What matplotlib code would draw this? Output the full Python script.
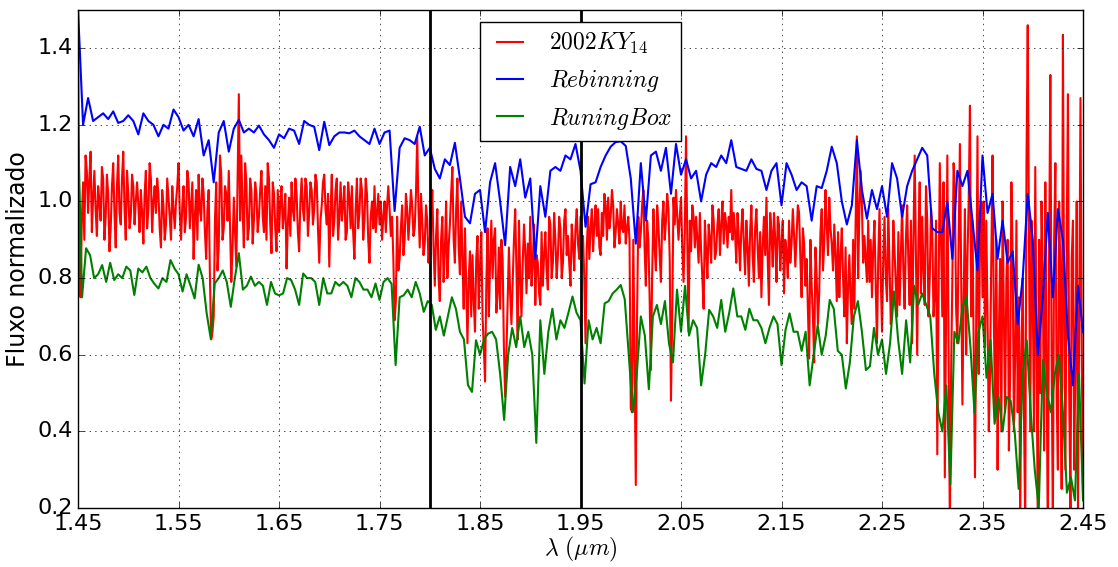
import numpy as np
import matplotlib
matplotlib.use("Agg")
import matplotlib.pyplot as plt

plt.style.use("classic")

# espectro original, passo de 0.0025 um (uma linha = 0.05 um)
fluxo = [
    1.50, 0.75, 1.05, 1.12, 0.97, 1.13, 1.01, 0.98, 1.04, 0.95, 1.06, 0.96, 1.02, 0.93, 1.10, 0.88, 1.12, 0.94, 1.13, 0.90,
    1.02, 0.96, 1.04, 1.00, 0.99, 1.03, 0.89, 1.08, 0.98, 1.06, 1.00, 0.97, 1.02, 0.88, 0.99, 0.94, 1.01, 0.90, 0.98, 1.00,
    1.10, 0.90, 1.04, 0.96, 1.05, 0.99, 0.85, 1.03, 1.07, 0.95, 1.02, 0.85, 1.03, 0.64, 0.70, 1.05, 0.88, 1.07, 0.93, 1.02,
    1.08, 0.79, 1.01, 0.83, 1.28, 1.12, 0.88, 1.05, 0.93, 1.03, 0.95, 1.02, 0.96, 1.08, 0.92, 0.90, 1.06, 0.865, 1.02, 0.87,
    0.92, 1.04, 0.97, 0.825, 1.01, 1.05, 0.95, 1.02, 0.87, 1.06, 0.95, 1.04, 0.97, 1.03, 0.98, 1.05, 0.84, 0.99, 1.07, 0.94,
    0.83, 1.07, 0.95, 1.06, 0.96, 0.95, 1.04, 0.92, 1.01, 1.04, 0.85, 1.06, 0.97, 1.03, 0.95, 1.02, 0.84, 1.00, 1.04, 0.97,
    0.94, 0.90, 1.00, 0.99, 0.98, 0.96, 0.69, 0.96, 0.85, 0.99, 0.90, 0.98, 0.96, 0.99, 0.93, 1.17, 0.88, 0.95, 0.89, 0.95,
    0.90, 1.03, 0.78, 0.98, 0.74, 0.96, 0.87, 0.80, 0.94, 1.09, 0.84, 1.06, 0.81, 0.85, 0.93, 0.63, 0.87, 0.86, 0.66, 0.91,
    0.83, 0.70, 0.53, 0.93, 0.84, 0.80, 0.93, 0.76, 0.72, 0.85, 0.49, 0.74, 0.76, 0.79, 0.98, 0.64, 0.80, 0.84, 0.87, 0.89,
    0.96, 0.84, 0.73, 0.84, 0.73, 0.78, 0.92, 0.77, 0.94, 0.84, 0.90, 0.86, 0.93, 0.84, 0.98, 0.91, 0.78, 0.89, 0.93, 0.89,
    0.96, 0.91, 0.63, 0.96, 0.93, 0.87, 0.99, 0.98, 0.86, 0.91, 0.99, 1.01, 0.96, 0.99, 0.92, 0.94, 1.00, 0.92, 0.89, 0.96,
    0.46, 0.90, 0.26, 0.96, 0.92, 1.03, 0.78, 0.90, 0.56, 0.98, 0.82, 0.94, 0.79, 1.00, 0.95, 0.98, 0.48, 1.01, 1.03, 0.90,
    1.01, 0.79, 1.17, 0.66, 0.87, 0.96, 0.96, 0.84, 0.87, 0.72, 0.87, 0.94, 0.84, 0.95, 0.87, 0.98, 0.94, 0.89, 0.94, 0.96,
    1.03, 0.97, 0.84, 0.90, 0.93, 0.89, 0.95, 0.78, 0.99, 0.79, 0.98, 0.80, 0.75, 0.96, 1.01, 0.73, 0.92, 0.97, 0.79, 0.94,
    0.89, 0.76, 0.87, 0.95, 0.89, 0.91, 0.91, 0.97, 0.75, 0.89, 0.85, 0.59, 0.78, 0.58, 0.80, 0.76, 0.98, 0.89, 0.94, 1.01,
    0.89, 0.94, 0.74, 0.75, 0.93, 0.70, 0.63, 0.86, 0.68, 0.72, 1.17, 0.98, 0.99, 0.91, 0.79, 0.79, 0.75, 0.95, 0.63, 0.98,
    0.66, 0.96, 0.74, 0.83, 0.75, 0.87, 0.70, 0.73, 0.99, 0.72, 0.99, 0.73, 0.63, 1.12, 0.60, 1.05, 0.96, 0.73, 0.95, 0.80,
    0.92, 0.76, 0.34, 1.10, 0.70, 0.28, 1.12, 0.15, 0.80, 1.03, 0.63, 1.15, 0.47, 0.98, 0.85, 1.25, 0.95, 0.28, 1.17, 0.89,
    0.75, 0.62, 0.70, 0.55, 1.12, 0.45, 0.30, 0.85, 1.00, 0.45, 0.90, 0.55, 0.85, 0.60, 0.45, 0.15, 0.80, 0.15, 1.46, 0.40,
    0.75, 1.09, 0.15, 0.50, 0.80, 1.05, 0.10, 1.33, 0.15, 1.10, 0.30, 0.80, 1.435, 0.30, 1.28, 0.20, 0.95, 0.60, 0.20, 1.27,
    0.25,
]

# pontos intermediarios do espectro (entre cada par de valores de fluxo)
fluxo_meio = [
    0.80, 0.95, 0.90, 1.08, 1.06, 0.92, 1.08, 0.91, 1.00, 1.09, 0.90, 1.07, 0.87, 1.04, 0.97, 1.04, 0.97, 1.06, 0.98, 1.08,
    0.93, 1.07, 0.94, 1.05, 0.92, 0.97, 1.02, 0.93, 1.10, 0.92, 1.04, 1.06, 0.93, 1.03, 0.90, 1.06, 0.96, 1.04, 0.93, 1.04,
    0.97, 0.99, 0.92, 1.08, 0.93, 1.05, 0.96, 0.90, 0.98, 1.06, 0.92, 0.98, 0.80, 0.66, 0.95, 0.82, 1.12, 0.90, 1.04, 0.95,
    0.93, 0.88, 0.92, 1.05, 0.95, 0.98, 1.10, 0.90, 1.06, 0.89, 1.05, 0.92, 1.03, 0.96, 1.04, 1.10, 0.94, 1.05, 0.93, 1.03,
    1.00, 0.93, 1.02, 0.94, 0.91, 0.98, 1.06, 0.92, 1.00, 0.98, 1.06, 0.91, 1.05, 0.94, 1.07, 0.93, 0.95, 1.05, 0.98, 1.02,
    0.97, 0.91, 1.03, 0.90, 1.05, 0.99, 0.90, 1.05, 0.93, 0.92, 0.98, 0.93, 1.06, 0.90, 1.06, 0.90, 0.96, 0.93, 0.92, 1.02,
    1.00, 0.96, 0.92, 1.04, 0.91, 0.85, 0.74, 0.82, 0.93, 0.86, 1.02, 0.90, 1.03, 0.91, 1.02, 0.98, 1.02, 0.86, 0.99, 0.84,
    0.95, 0.88, 0.91, 0.80, 0.90, 0.79, 1.00, 0.88, 1.02, 0.90, 0.98, 0.88, 1.00, 0.72, 0.78, 0.80, 0.70, 0.74, 0.85, 0.72,
    0.92, 0.62, 0.78, 0.70, 0.95, 0.90, 0.71, 0.88, 0.90, 0.62, 0.60, 0.88, 0.68, 0.90, 0.82, 0.95, 0.70, 0.94, 0.76, 0.80,
    0.78, 0.94, 0.86, 0.76, 0.92, 0.86, 0.82, 0.96, 0.80, 0.97, 0.80, 0.96, 0.80, 0.95, 0.86, 0.84, 0.94, 0.82, 0.98, 0.85,
    0.86, 0.80, 0.88, 0.85, 0.98, 0.94, 0.91, 0.88, 0.97, 1.02, 0.90, 0.93, 1.03, 0.88, 0.98, 0.89, 0.93, 0.99, 0.93, 0.90,
    0.45, 0.60, 0.70, 0.88, 0.99, 0.88, 0.95, 0.75, 0.80, 0.88, 0.99, 0.86, 0.95, 0.90, 1.02, 0.85, 0.70, 0.94, 0.96, 0.96,
    0.88, 0.92, 0.90, 0.95, 0.99, 0.88, 0.90, 0.97, 0.80, 0.95, 0.80, 0.90, 0.99, 0.85, 0.94, 0.86, 1.00, 0.97, 0.88, 0.92,
    0.90, 0.92, 0.97, 0.82, 0.98, 0.81, 0.88, 0.92, 0.86, 0.93, 0.88, 0.92, 0.88, 0.86, 0.85, 0.97, 0.83, 0.90, 0.96, 0.82,
    0.95, 0.90, 0.80, 0.84, 0.98, 0.83, 0.99, 0.85, 0.93, 0.78, 0.72, 0.90, 0.70, 0.88, 0.68, 0.92, 0.82, 1.03, 0.86, 0.93,
    0.82, 0.86, 0.92, 0.86, 0.80, 0.88, 0.78, 0.74, 0.90, 0.95, 0.80, 1.08, 0.84, 0.85, 0.95, 0.90, 0.88, 0.78, 0.85, 0.80,
    0.85, 0.80, 0.98, 0.68, 0.95, 0.78, 0.92, 0.86, 0.82, 0.90, 0.84, 0.95, 0.90, 0.85, 0.90, 0.76, 0.82, 1.04, 0.70, 0.98,
    0.70, 0.95, 0.75, 0.90, 1.05, 0.70, 0.60, 0.55, 1.10, 0.72, 0.90, 0.80, 0.75, 0.60, 1.00, 0.70, 0.60, 0.70, 0.55, 1.00,
    1.00, 0.95, 0.40, 0.85, 0.70, 0.90, 0.65, 0.40, 0.70, 0.80, 0.35, 1.05, 0.40, 0.95, 0.75, 0.60, 0.45, 1.10, 0.90, 0.95,
    0.40, 0.60, 0.90, 1.00, 0.35, 0.60, 0.85, 0.60, 0.90, 0.50, 1.00, 0.25, 0.70, 0.90, 0.50, 0.85, 0.30, 1.00, 0.70, 0.60,
]

# rebinning, passo de 0.005 um (uma linha = 0.05 um)
rebin = [
    1.50, 1.20, 1.27, 1.21, 1.22, 1.23, 1.215, 1.235, 1.205, 1.21,
    1.225, 1.21, 1.175, 1.23, 1.21, 1.20, 1.17, 1.20, 1.19, 1.24,
    1.22, 1.185, 1.20, 1.17, 1.215, 1.12, 1.16, 1.05, 1.18, 1.21,
    1.13, 1.19, 1.213, 1.18, 1.19, 1.18, 1.198, 1.175, 1.16, 1.14,
    1.175, 1.165, 1.19, 1.185, 1.15, 1.21, 1.20, 1.195, 1.134, 1.208,
    1.147, 1.17, 1.18, 1.18, 1.178, 1.185, 1.17, 1.16, 1.15, 1.19,
    1.15, 1.18, 1.185, 0.975, 1.14, 1.165, 1.16, 1.15, 1.195, 1.12,
    1.14, 1.085, 1.06, 1.11, 1.095, 1.153, 1.06, 0.96, 0.943, 1.02,
    1.03, 0.92, 1.05, 1.10, 1.00, 0.886, 1.09, 1.04, 1.11, 1.01,
    1.06, 0.85, 1.04, 0.96, 1.08, 1.09, 1.08, 1.12, 1.11, 1.15,
    1.08, 0.934, 1.045, 1.05, 1.09, 1.12, 1.143, 1.155, 1.157, 1.145,
    1.06, 0.89, 1.10, 0.95, 1.12, 1.13, 1.08, 1.14, 1.02, 1.15,
    1.07, 1.11, 1.06, 1.08, 1.00, 1.07, 1.10, 1.09, 1.12, 1.10,
    1.16, 1.09, 1.085, 1.08, 1.11, 1.085, 1.08, 1.03, 1.08, 1.10,
    0.99, 1.10, 1.07, 1.03, 1.05, 1.04, 0.95, 1.04, 1.035, 1.08,
    1.143, 1.10, 1.00, 0.94, 0.99, 1.16, 1.03, 0.955, 1.03, 0.98,
    1.04, 0.96, 1.10, 1.06, 0.96, 1.04, 1.08, 1.11, 1.14, 1.12,
    0.93, 0.92, 0.92, 1.00, 0.85, 1.08, 1.04, 1.08, 0.95, 0.82,
    1.12, 0.97, 1.02, 0.85, 0.95, 0.84, 0.87, 0.68, 0.80, 1.02,
    0.90, 0.60, 0.75, 0.97, 0.75, 0.98, 0.90, 0.65, 0.52, 0.78,
    0.66,
]

# running box, passo de 0.004 um (uma linha = 0.04 um)
runbox = [
    1.20, 0.75, 0.878, 0.86, 0.80, 0.81, 0.834, 0.79, 0.84, 0.795,
    0.81, 0.80, 0.83, 0.82, 0.756, 0.825, 0.815, 0.83, 0.80, 0.785,
    0.773, 0.80, 0.79, 0.847, 0.825, 0.81, 0.765, 0.81, 0.78, 0.747,
    0.835, 0.80, 0.708, 0.643, 0.786, 0.80, 0.82, 0.79, 0.725, 0.80,
    0.865, 0.77, 0.78, 0.804, 0.78, 0.79, 0.78, 0.73, 0.79, 0.76,
    0.755, 0.76, 0.80, 0.795, 0.77, 0.73, 0.812, 0.80, 0.80, 0.79,
    0.73, 0.80, 0.76, 0.76, 0.79, 0.78, 0.79, 0.78, 0.75, 0.80,
    0.79, 0.77, 0.77, 0.75, 0.786, 0.743, 0.79, 0.80, 0.785, 0.573,
    0.75, 0.755, 0.77, 0.75, 0.79, 0.76, 0.712, 0.74, 0.73, 0.665,
    0.70, 0.65, 0.70, 0.75, 0.72, 0.66, 0.64, 0.521, 0.503, 0.638,
    0.60, 0.64, 0.655, 0.66, 0.64, 0.55, 0.43, 0.60, 0.67, 0.62,
    0.70, 0.62, 0.66, 0.60, 0.37, 0.69, 0.55, 0.66, 0.72, 0.64,
    0.69, 0.67, 0.71, 0.752, 0.71, 0.69, 0.525, 0.69, 0.64, 0.67,
    0.63, 0.734, 0.74, 0.76, 0.77, 0.782, 0.745, 0.60, 0.45, 0.55,
    0.70, 0.65, 0.51, 0.70, 0.73, 0.68, 0.74, 0.63, 0.58, 0.77,
    0.66, 0.78, 0.65, 0.69, 0.67, 0.52, 0.60, 0.717, 0.70, 0.67,
    0.743, 0.66, 0.71, 0.773, 0.70, 0.70, 0.665, 0.72, 0.69, 0.69,
    0.67, 0.63, 0.67, 0.70, 0.68, 0.573, 0.665, 0.708, 0.66, 0.66,
    0.61, 0.66, 0.52, 0.60, 0.677, 0.60, 0.65, 0.743, 0.72, 0.61,
    0.60, 0.512, 0.58, 0.70, 0.74, 0.66, 0.56, 0.57, 0.67, 0.60,
    0.64, 0.55, 0.63, 0.765, 0.64, 0.55, 0.69, 0.58, 0.78, 0.73,
    0.76, 0.73, 0.70, 0.55, 0.45, 0.40, 0.52, 0.26, 0.66, 0.63,
    0.725, 0.752, 0.62, 0.45, 0.66, 0.70, 0.54, 0.64, 0.42, 0.49,
    0.40, 0.49, 0.48, 0.40, 0.25, 0.55, 0.638, 0.45, 0.30, 0.20,
    0.586, 0.50, 0.45, 0.55, 0.60, 0.45, 0.24, 0.28, 0.22, 0.55,
    0.22,
]

linhas_vert = [1.80, 1.95]
xticks = [1.45, 1.55, 1.65, 1.75, 1.85, 1.95, 2.05, 2.15, 2.25, 2.35, 2.45]
yticks = [0.2, 0.4, 0.6, 0.8, 1.0, 1.2, 1.4]

# junta os pontos do espectro com os intermediarios
espectro = np.empty(len(fluxo) + len(fluxo_meio))
espectro[0::2] = fluxo
espectro[1::2] = fluxo_meio

lam_f = np.linspace(1.45, 2.45, len(espectro))
lam_r = np.linspace(1.45, 2.45, len(rebin))
lam_b = np.linspace(1.45, 2.45, len(runbox))

fig = plt.figure(figsize=(11.18, 5.67), dpi=100)
ax = fig.add_axes([0.0698, 0.104, 0.8989, 0.8786])

ax.plot(lam_f, espectro, color="r", lw=1.5, label=r"$2002KY_{14}$")
ax.plot(lam_r, rebin, color="b", lw=1.5, label=r"$Rebinning$")
ax.plot(lam_b, runbox, color="g", lw=1.5, label=r"$RuningBox$")
for xv in linhas_vert:
    ax.axvline(xv, color="k", lw=2)

ax.set_xlim(1.45, 2.45)
ax.set_ylim(0.2, 1.5)
ax.set_xticks(xticks)
ax.set_yticks(yticks)
ax.tick_params(labelsize=16)
ax.grid(True)
ax.set_xlabel(r"$\lambda\ (\mu m)$", fontsize=17, labelpad=1)
ax.set_ylabel("Fluxo normalizado", fontsize=17)
ax.legend(loc="upper center", fontsize=17, handlelength=1.7)

fig.savefig("out.png", dpi=100)
